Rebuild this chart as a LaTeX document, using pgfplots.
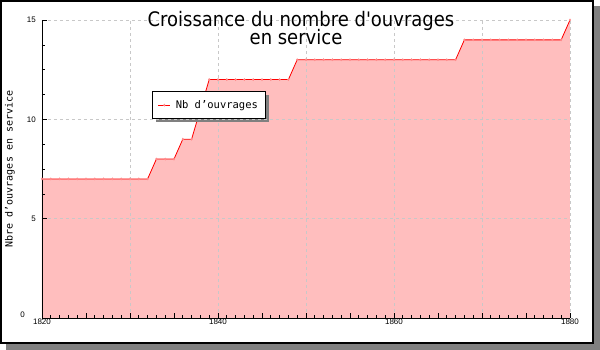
\documentclass[border=0pt]{standalone}
\usepackage{fontspec}
\setmainfont{Liberation Sans}
\newfontfamily\monof{DejaVu Sans Mono}
\newfontfamily\condf{DejaVu Sans Condensed}
\usepackage{pgfplots}
\usepackage{pgfplotstable}
\pgfplotsset{compat=1.18}
\definecolor{fillpink}{RGB}{255,190,190}
\definecolor{shadowgray}{RGB}{128,128,128}
\definecolor{gridgray}{RGB}{200,200,200}
\definecolor{markred}{RGB}{255,140,140}

\pgfplotstableread{
year n
1820 7
1821 7
1822 7
1823 7
1824 7
1825 7
1826 7
1827 7
1828 7
1829 7
1830 7
1831 7
1832 7
1833 8
1834 8
1835 8
1836 9
1837 9
1839 12
1840 12
1841 12
1842 12
1843 12
1844 12
1845 12
1846 12
1847 12
1848 12
1849 13
1850 13
1851 13
1852 13
1853 13
1854 13
1855 13
1856 13
1857 13
1858 13
1859 13
1860 13
1861 13
1862 13
1863 13
1864 13
1865 13
1866 13
1867 13
1868 14
1869 14
1870 14
1871 14
1872 14
1873 14
1874 14
1875 14
1876 14
1877 14
1878 14
1879 14
1880 15
}\data

\begin{document}
\begin{tikzpicture}[x=1pt,y=1pt]
\fill[shadowgray] (-36,-32) rectangle (558,312);
\draw[line width=2pt, fill=white] (-41,-25) rectangle (551,317);
\begin{axis}[
  at={(0,0)}, anchor=south west,
  scale only axis, width=528pt, height=298pt,
  xmin=1820, xmax=1880, ymin=0, ymax=15,
  axis lines*=left,
  axis line style={line width=0.8pt, -},
  tick align=inside,
  xtick={1820,1830,...,1880},
  xticklabels={1820,,1840,,1860,,1880},
  extra x ticks={1825,1835,...,1875},
  extra x tick labels={},
  extra x tick style={grid=none},
  minor x tick num=9,
  ytick={5,10,15},
  extra y ticks={0},
  extra y tick style={grid=none, yticklabel style={xshift=-11pt, yshift=3pt}},
  minor y tick num=3,
  xmajorgrids, ymajorgrids,
  major grid style={dashed, gridgray, line width=0.6pt},
  major tick length=5pt, minor tick length=3pt,
  every tick/.style={black, line width=0.6pt},
  axis on top,
  /pgf/number format/assume math mode=true,
  /pgf/number format/1000 sep={},
  xticklabel style={font=\fontsize{8}{8}\selectfont, inner sep=1pt},
  yticklabel style={font=\fontsize{8}{8}\selectfont, inner sep=0pt, xshift=-6pt},
  ylabel={Nbre d’ouvrages en service},
  ylabel style={font=\monof\fontsize{10}{10}\selectfont, at={(axis description cs:-0.0606,0.5)}, anchor=center},
  legend style={at={(axis description cs:0.2083,0.762)}, anchor=north west,
    draw=black, line width=1pt, fill=white,
    font=\monof\fontsize{10.5}{12}\selectfont,
    inner xsep=5.5pt, inner ysep=7pt,
    /tikz/every odd column/.append style={column sep=3pt}},
  legend image code/.code={\draw[red, line width=0.8pt, mark repeat=2, mark phase=2, mark=diamond*, mark size=1.2pt, mark options={markred, fill=markred, line width=0.3pt}] plot coordinates {(0pt,0pt)(6pt,0pt)(12pt,0pt)};},
]
\addplot[fill=fillpink, draw=none, forget plot] table[x=year,y=n] {\data} \closedcycle;
\addplot[red, line width=0.8pt, mark=diamond*, mark size=1.2pt, mark options={markred, fill=markred, line width=0.3pt}] table[x=year,y=n] {\data};
\addlegendentry{Nb d’ouvrages}
\fill[shadowgray] (axis description cs:0.2159,0.6577) rectangle (axis description cs:0.4299,0.7483);
\end{axis}
\node[font=\condf\fontsize{20}{20}\selectfont, anchor=base] at (259,291.3) {Croissance du nombre d'ouvrages};
\node[font=\condf\fontsize{20}{20}\selectfont, anchor=base] at (254,273.7) {en service};
\pgfresetboundingbox
\path (-42,-32) rectangle (558,318);
\end{tikzpicture}
\end{document}
